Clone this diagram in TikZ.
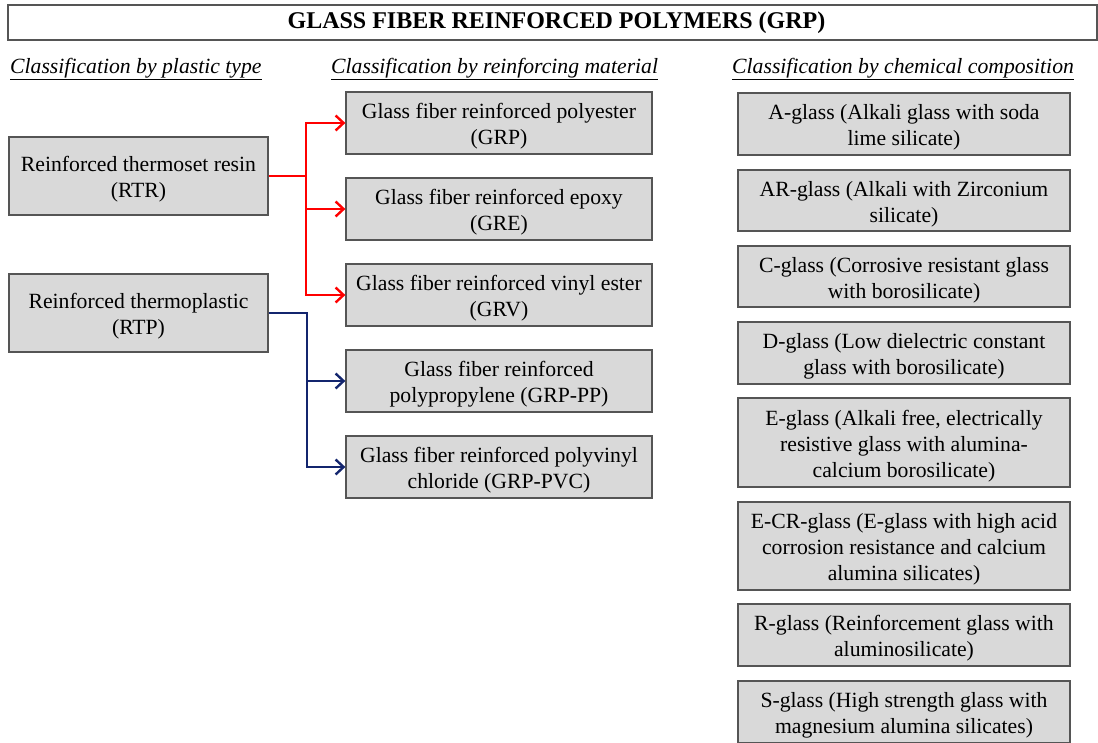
\documentclass[tikz,border=0pt]{standalone}
\usepackage{fontspec}
\setmainfont{Liberation Serif}
\usetikzlibrary{arrows.meta}
\definecolor{boxfill}{HTML}{D9D9D9}
\definecolor{boxline}{HTML}{555555}
\definecolor{rtrred}{HTML}{FF0000}
\definecolor{rtpblue}{HTML}{13256E}
% a grey category box: name, centre, width, height, text
\newcommand\catnode[5]{%
  \node[catbox, minimum width=#3, minimum height=#4,
        label={[boxtext]center:{#5}}] (#1) at (#2) {};}
\begin{document}
\begin{tikzpicture}[x=1pt,y=-1pt,
  txt/.style={font=\fontsize{21.7}{26}\selectfont},
  catbox/.style={draw=boxline, fill=boxfill, line width=1.3pt, inner sep=0pt},
  boxtext/.style={txt, align=center, inner sep=0pt, yshift=-3.5pt},
  header/.style={txt, anchor=base west, inner sep=0pt},
  link/.style={line width=2.4pt, -{Straight Barb[length=8pt,width=15pt,line width=2.4pt]}},
  redlink/.style={link, draw=rtrred},
  bluelink/.style={link, draw=rtpblue}
]
\useasboundingbox (0,0) rectangle (1098,742);

% title bar
\node[draw=boxline, line width=1.3pt, minimum width=1089pt, minimum height=35pt,
      inner sep=0pt, label={[font=\fontsize{24}{28}\selectfont\bfseries, inner sep=0pt, xshift=4pt]center:GLASS FIBER REINFORCED POLYMERS (GRP)}] (title) at (552.5,22.5) {};

% column headings
\node[header] (h1) at (10,73) {\itshape\underline{Classification by plastic type}};
\node[header] (h2) at (331,73) {\itshape\underline{Classification by reinforcing material}};
\node[header] (h3) at (732,73) {\itshape\underline{Classification by chemical composition}};

% plastic type
\catnode{rtr}{138.5,176}{259pt}{78pt}{Reinforced thermoset resin\\(RTR)}
\catnode{rtp}{138.5,313}{259pt}{78pt}{Reinforced thermoplastic\\(RTP)}

% reinforcing material
\catnode{grp}{499,123}{306pt}{62pt}{Glass fiber reinforced polyester\\(GRP)}
\catnode{gre}{499,209}{306pt}{62pt}{Glass fiber reinforced epoxy\\(GRE)}
\catnode{grv}{499,295}{306pt}{62pt}{Glass fiber reinforced vinyl ester\\(GRV)}
\catnode{grpp}{499,381}{306pt}{62pt}{Glass fiber reinforced\\polypropylene (GRP-PP)}
\catnode{grpvc}{499,467}{306pt}{62pt}{Glass fiber reinforced polyvinyl\\chloride (GRP-PVC)}

% chemical composition
\catnode{ag}{904,124}{332pt}{62pt}{A-glass (Alkali glass with soda\\lime silicate)}
\catnode{arg}{904,200.5}{332pt}{61pt}{AR-glass (Alkali with Zirconium\\silicate)}
\catnode{cg}{904,276.5}{332pt}{61pt}{C-glass (Corrosive resistant glass\\with borosilicate)}
\catnode{dg}{904,353}{332pt}{62pt}{D-glass (Low dielectric constant\\glass with borosilicate)}
\catnode{eg}{904,442.5}{332pt}{89pt}{E-glass (Alkali free, electrically\\resistive glass with alumina-\\calcium borosilicate)}
\catnode{ecr}{904,546}{332pt}{88pt}{E-CR-glass (E-glass with high acid\\corrosion resistance and calcium\\alumina silicates)}
\catnode{rg}{904,635}{332pt}{62pt}{R-glass (Reinforcement glass with\\aluminosilicate)}
\catnode{sg}{904,712}{332pt}{62pt}{S-glass (High strength glass with\\magnesium alumina silicates)}

% connectors
\coordinate (rj) at (306,176);
\coordinate (bj) at (307,313);
\draw[redlink] (rtr.east) -- (rj) |- (grp.west);
\draw[redlink] (rj) |- (grv.west);
\draw[redlink] (rj |- gre.west) -- (gre.west);
\draw[bluelink] (rtp.east) -- (bj) |- (grpvc.west);
\draw[bluelink] (bj |- grpp.west) -- (grpp.west);
\end{tikzpicture}
\end{document}
